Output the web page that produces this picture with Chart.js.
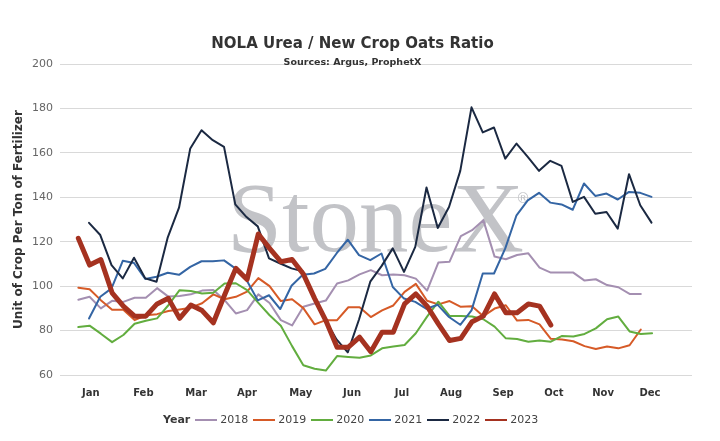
<!DOCTYPE html>
<html>
<head>
<meta charset="utf-8">
<script src="https://cdn.jsdelivr.net/npm/chart.js@4.4.0/dist/chart.umd.min.js"></script>
<style>
  html, body { margin: 0; padding: 0; background: #ffffff; }
  #wrap { position: relative; width: 720px; height: 441px; overflow: hidden; }
  #c { position: absolute; left: 0; top: 0; }
  #legend { position: absolute; left: 163px; top: 413px; display: flex; align-items: center;
            font-family: "DejaVu Sans", Verdana, sans-serif; font-size: 11px; color: #444; white-space: nowrap; }
  #legend .ttl { font-weight: bold; color: #3a3a3a; margin-right: 5px; }
  #legend .sw { display: inline-block; width: 22px; height: 2px; margin-right: 3px; }
  #legend .lab { margin-right: 5px; }
</style>
</head>
<body>
<div id="wrap">
  <canvas id="c" width="720" height="441"></canvas>
  <div id="legend"></div>
</div>
<script>
// ---------- data ----------
const years = ['2018', '2019', '2020', '2021', '2022', '2023'];
const colors = ['#A48FB1', '#D65A27', '#62AD3F', '#3465A4', '#1B2942', '#A53220'];
// first week index of each year's weekly series (weeks from axis origin)
const startWeek = [1.63, 1.63, 1.63, 2.58, 2.58, 1.63];

const v2018 = [93.9,95.2,90,93.4,92.9,94.8,94.8,99.1,95.3,95.6,96.3,98,98.3,93.7,87.7,89.2,96.3,92.4,84.7,82.3,90.7,92.2,93.5,101.2,102.6,105.3,107.2,104.9,105.2,104.9,103.4,98,110.6,111,122.5,125.2,129.7,113.3,112.1,114,114.8,108.3,106.1,106.1,106.1,102.5,103.1,100.5,99.5,96.5,96.5];
const v2019 = [99.3,98.6,93.7,89.4,89.4,84.7,86.9,87.4,88.8,89.5,90.3,92.3,96.3,94.1,95.2,97.5,103.6,100,93.3,94.1,90.1,82.8,84.7,84.7,90.5,90.5,86.1,89.1,91.3,97.4,101,93.4,91.8,93.3,90.7,91,86.5,89.9,91.4,84.5,84.8,82.8,76.3,76,75.2,73,71.7,72.8,72,73.4,80.5];
const v2020 = [81.6,82.2,78.6,74.8,78,83.1,84.4,85.5,91.4,98.2,97.8,96.7,97,101.2,101.3,98.2,92.5,86.9,82.2,73,64.4,62.8,62,68.5,68.1,67.8,68.8,72,72.8,73.5,78.8,86.3,93,86.6,86.6,86.3,85.1,81.8,76.5,76.2,75,75.5,75,77.6,77.3,78.5,81,85.1,86.3,79.6,78.5,78.8];
const v2021 = [85.4,95.2,99,111.4,110.4,103.2,104.2,106,105.1,108.7,111.2,111.2,111.6,108,102.8,93.6,95.9,89.7,100.2,105.1,105.7,107.8,114.7,120.9,114,111.7,114.7,99.6,94.4,92.9,89.8,91.6,86.1,82.6,89.1,105.7,105.7,117,131.9,138.6,142,137.6,136.8,134.4,146.2,140.6,141.7,139,142.4,142,140.2];
const v2022 = [128.5,123,109.5,103.5,112.8,103.5,102,122,135.3,162,170.2,165.7,162.7,136.8,131.1,126.9,112.5,110.2,108,106.7,95,85,76,70.2,85,102,109,117,106.4,117.7,144.4,126.2,135.6,151.9,180.5,169.2,171.4,157.4,164.2,158.2,151.9,156.4,154.1,137.9,140.2,132.6,133.4,125.9,150.4,136.4,128.6];
const v2023 = [121.5,109.5,112,97,91,86.5,86.5,92,94.5,85.5,91.5,89,83.5,96,108,103,123.5,117,111,112,105.5,94.5,84.5,72.5,72.5,77,70.5,79.3,79.3,92,96.5,91,83,75.5,76.5,84,86.5,96.5,88,88,92,91,82.5];
const seriesValues = [v2018, v2019, v2020, v2021, v2022, v2023];

const monthLabels = ['Jan','Feb','Mar','Apr','May','Jun','Jul','Aug','Sep','Oct','Nov','Dec'];
const monthTickWeeks = [2.73, 7.41, 12.09, 16.62, 21.4, 25.96, 30.4, 34.76, 39.38, 43.91, 48.27, 52.44];
const yTicks = [60, 80, 100, 120, 140, 160, 180, 200];

// ---------- chart ----------
const FONT = '"DejaVu Sans", Verdana, sans-serif';

const datasets = years.map((yr, i) => ({
  label: yr,
  data: seriesValues[i].map((v, k) => ({ x: startWeek[i] + k, y: v })),
  borderColor: colors[i],
  backgroundColor: colors[i],
  borderWidth: yr === '2023' ? 5 : 2,
  pointRadius: 0,
  pointHoverRadius: 0,
  tension: 0,
  fill: false,
  borderJoinStyle: 'round',
  borderCapStyle: 'round',
  order: years.length - 1 - i
}));

const decorPlugin = {
  id: 'decor',
  beforeDatasetsDraw(chart) {
    const ctx = chart.ctx;
    ctx.save();
    ctx.fillStyle = '#c2c3c7';
    ctx.textBaseline = 'alphabetic';
    ctx.textAlign = 'left';
    ctx.font = '99px "Liberation Serif", "Times New Roman", serif';
    ctx.fillText('StoneX', 227, 251);
    ctx.font = '14px "DejaVu Sans", sans-serif';
    ctx.fillText('\u00AE', 516, 203);
    ctx.restore();
  },
  afterDraw(chart) {
    const ctx = chart.ctx;
    ctx.save();
    ctx.fillStyle = '#333333';
    ctx.textAlign = 'center';
    ctx.textBaseline = 'middle';
    ctx.font = 'bold 15px ' + FONT;
    ctx.fillText('NOLA Urea / New Crop Oats Ratio', 352.5, 44);
    ctx.font = 'bold 9.5px ' + FONT;
    ctx.fillText('Sources: Argus, ProphetX', 352.5, 63);
    ctx.translate(18.5, 219.5);
    ctx.rotate(-Math.PI / 2);
    ctx.font = 'bold 12px ' + FONT;
    ctx.fillText('Unit of Crop Per Ton of Fertilizer', 0, 0);
    ctx.restore();
  }
};

new Chart(document.getElementById('c'), {
  type: 'line',
  data: { datasets },
  options: {
    responsive: false,
    animation: false,
    events: [],
    layout: { padding: { top: 64, right: 28, bottom: 0, left: 0 } },
    plugins: { legend: { display: false }, title: { display: false }, tooltip: { enabled: false } },
    scales: {
      x: {
        type: 'linear',
        min: 0,
        max: 56.18,
        grid: { display: false, drawTicks: false },
        border: { display: false },
        afterBuildTicks: (s) => { s.ticks = monthTickWeeks.map(v => ({ value: v })); },
        afterFit: (s) => { s.height = 66; },
        ticks: {
          autoSkip: false,
          maxRotation: 0,
          padding: 12,
          color: '#333333',
          font: { family: FONT, size: 10, weight: 'bold' },
          callback: (v, i) => monthLabels[i]
        }
      },
      y: {
        type: 'linear',
        min: 60,
        max: 200,
        grid: { color: '#d9d9d9', lineWidth: 1, drawTicks: false },
        border: { display: false },
        afterBuildTicks: (s) => { s.ticks = yTicks.map(v => ({ value: v })); },
        afterFit: (s) => { s.width = 60; },
        ticks: {
          padding: 7,
          color: '#666666',
          font: { family: FONT, size: 11 }
        }
      }
    }
  },
  plugins: [decorPlugin]
});

// ---------- HTML legend ----------
const lg = document.getElementById('legend');
const t = document.createElement('span');
t.className = 'ttl';
t.textContent = 'Year';
lg.appendChild(t);
years.forEach((yr, i) => {
  const sw = document.createElement('span');
  sw.className = 'sw';
  sw.style.background = colors[i];
  lg.appendChild(sw);
  const lb = document.createElement('span');
  lb.className = 'lab';
  lb.textContent = yr;
  lg.appendChild(lb);
});
</script>
</body>
</html>
